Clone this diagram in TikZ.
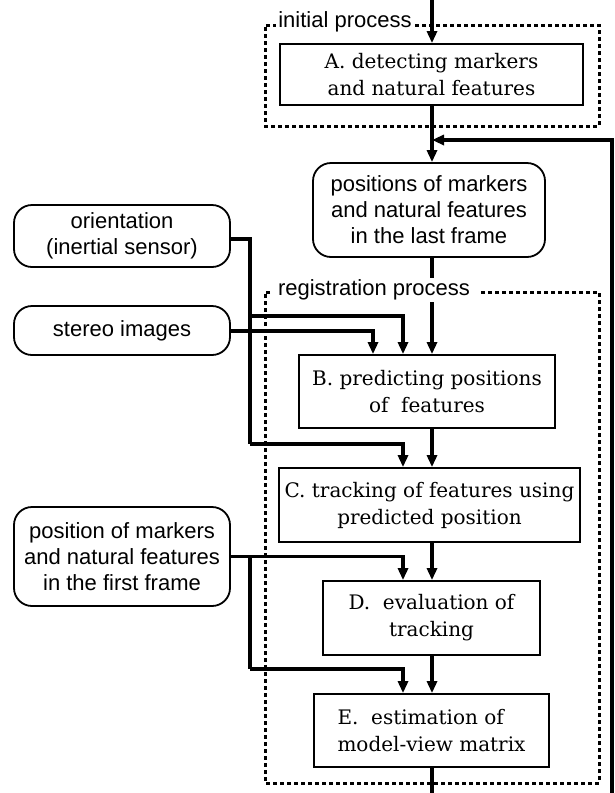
\documentclass[tikz,border=0pt]{standalone}
\usepackage{fontspec}
\setmainfont{Liberation Sans}
\newfontfamily\boxserif{DejaVu Serif}
\usetikzlibrary{arrows.meta}
\tikzset{
  procbox/.style={draw, line width=1.8pt, inner sep=0pt, align=center,
    font=\boxserif\fontsize{20}{27}\selectfont},
  databox/.style={draw, line width=1.8pt, rounded corners=18pt, inner sep=0pt, align=center,
    font=\fontsize{22}{26}\selectfont},
  conn/.style={line width=3.2pt, line join=miter},
  arr/.style={conn, -{Triangle[width=10pt,length=12pt]}},
  dashbox/.style={line width=3pt, dash pattern=on 4pt off 3pt},
  grouplabel/.style={fill=white, inner sep=2pt, font=\fontsize{22}{24}\selectfont}
}
\begin{document}
\begin{tikzpicture}[x=1pt,y=-1pt]
\useasboundingbox (0,0) rectangle (614,793);
% boxes
\node[procbox, minimum width=303pt, minimum height=61pt] (A) at (431.5,74.5) {A. detecting markers\\and natural features};
\node[databox, minimum width=232pt, minimum height=94pt] (P) at (429,210) {positions of markers\\and natural features\\in the last frame};
\node[databox, minimum width=216pt, minimum height=62pt] (O) at (122,236) {orientation\\(inertial sensor)};
\node[databox, minimum width=216pt, minimum height=49pt] (S) at (122,330.5) {stereo images};
\node[databox, minimum width=216pt, minimum height=99pt] (F) at (122,556.5) {position of markers\\and natural features\\in the first frame};
\node[procbox, minimum width=256pt, minimum height=73pt] (B) at (427,391.5) {B. predicting positions\\of\ \ features};
\node[procbox, minimum width=301pt, minimum height=74pt] (C) at (429.5,505) {C. tracking of features using\\predicted position};
\node[procbox, minimum width=217pt, minimum height=74pt] (D) at (431.5,618) {D.\ \ evaluation of\\tracking};
\node[procbox, minimum width=235pt, minimum height=73pt, align=left] (E) at (431.5,730.5) {E.\ \ estimation of\\model-view matrix};
% helper coordinates
\coordinate (top) at (432,0);
\coordinate (bot) at (432,793);
\coordinate (fbBot) at (612,793);
\coordinate (fbTop) at (612,140);
\coordinate (fbJoin) at (432,140);
\coordinate (xm) at (432,0);
\coordinate (xa) at (403,0);
\coordinate (xs) at (373,0);
\coordinate (jO) at (250,239);
\coordinate (jO1) at (250,316);
\coordinate (jO2) at (250,444);
\coordinate (jF) at (250,557);
\coordinate (jF2) at (250,669);
% dashed groups
\draw[dashbox] (277,25) -- (265,25) -- (265,126) -- (599,126) -- (599,25) -- (414,25);
\node[grouplabel] (lblI) at (345,22) {initial process};
\draw[dashbox] (270,292) -- (265,292) -- (265,783) -- (599,783) -- (599,292) -- (480,292);
% main flow
\draw[arr] (top) -- (A.north -| xm);
\draw[arr] (A.south -| xm) -- (P.north -| xm);
\draw[arr] (fbBot) -- (fbTop) -- (fbJoin);
\draw[arr] (P.south -| xm) -- (B.north -| xm);
\node[grouplabel] (lblR) at (374,290) {registration process};
\draw[arr] (B.south -| xm) -- (C.north -| xm);
\draw[arr] (C.south -| xm) -- (D.north -| xm);
\draw[arr] (D.south -| xm) -- (E.north -| xm);
\draw[conn] (E.south -| xm) -- (bot);
% inputs
\draw[conn] ([yshift=-3pt]O.east) -- (jO) -- (jO2);
\draw[arr] (jO1) -| (B.north -| xa);
\draw[arr] (jO2) -| (C.north -| xa);
\draw[arr] ([yshift=-0.5pt]S.east) -| (B.north -| xs);
\draw[arr] (F.east) -| (D.north -| xa);
\draw[conn] (jF) -- (jF2);
\draw[arr] (jF2) -| (E.north -| xa);
\end{tikzpicture}
\end{document}
